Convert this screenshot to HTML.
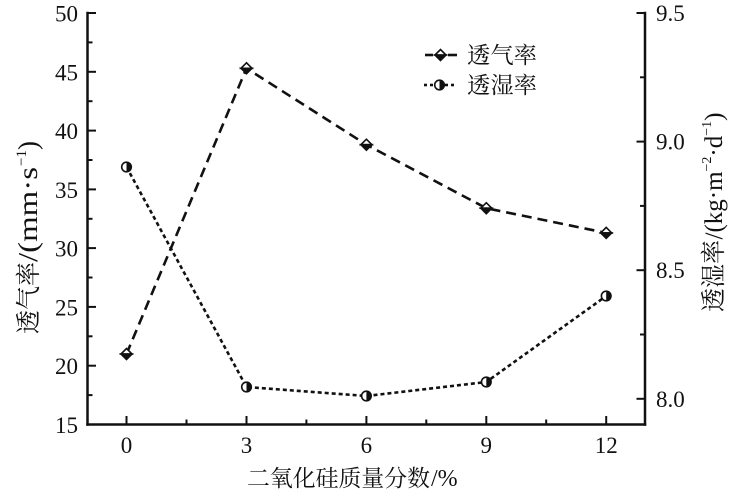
<!DOCTYPE html>
<html>
<head>
<meta charset="utf-8">
<style>
  html,body{margin:0;padding:0;background:#fff;}
  svg{display:block;}
  .num{font-family:"Liberation Serif",serif;font-size:23px;fill:#111;}
  .cjk{font-family:"Liberation Serif","Noto Serif CJK SC","Noto Sans CJK SC",serif;fill:#111;}
  .lat{font-family:"Liberation Serif",serif;fill:#111;}
</style>
</head>
<body>
<svg width="736" height="494" viewBox="0 0 736 494" xmlns="http://www.w3.org/2000/svg">
  <rect width="736" height="494" fill="#fff"/>

  <!-- Axes -->
  <g stroke="#111" stroke-width="2.5" fill="none" stroke-linecap="square">
    <line x1="87.5" y1="13" x2="87.5" y2="424.5"/>
    <line x1="645" y1="13" x2="645" y2="424.5"/>
    <line x1="87.5" y1="424.5" x2="645" y2="424.5"/>
  </g>

  <!-- Left ticks -->
  <g stroke="#111" stroke-width="2">
    <line x1="87.5" y1="13" x2="96" y2="13"/>
    <line x1="87.5" y1="71.8" x2="96" y2="71.8"/>
    <line x1="87.5" y1="130.6" x2="96" y2="130.6"/>
    <line x1="87.5" y1="189.4" x2="96" y2="189.4"/>
    <line x1="87.5" y1="248.1" x2="96" y2="248.1"/>
    <line x1="87.5" y1="306.9" x2="96" y2="306.9"/>
    <line x1="87.5" y1="365.7" x2="96" y2="365.7"/>
    <line x1="87.5" y1="42.4" x2="92.5" y2="42.4"/>
    <line x1="87.5" y1="101.2" x2="92.5" y2="101.2"/>
    <line x1="87.5" y1="160" x2="92.5" y2="160"/>
    <line x1="87.5" y1="218.8" x2="92.5" y2="218.8"/>
    <line x1="87.5" y1="277.5" x2="92.5" y2="277.5"/>
    <line x1="87.5" y1="336.3" x2="92.5" y2="336.3"/>
    <line x1="87.5" y1="395.1" x2="92.5" y2="395.1"/>
  </g>

  <!-- Right ticks -->
  <g stroke="#111" stroke-width="2">
    <line x1="645" y1="13" x2="636.5" y2="13"/>
    <line x1="645" y1="141.6" x2="636.5" y2="141.6"/>
    <line x1="645" y1="270.2" x2="636.5" y2="270.2"/>
    <line x1="645" y1="398.8" x2="636.5" y2="398.8"/>
    <line x1="645" y1="77.3" x2="640" y2="77.3"/>
    <line x1="645" y1="205.9" x2="640" y2="205.9"/>
    <line x1="645" y1="334.5" x2="640" y2="334.5"/>
  </g>

  <!-- Bottom ticks -->
  <g stroke="#111" stroke-width="2">
    <line x1="126.5" y1="424.5" x2="126.5" y2="416"/>
    <line x1="246.5" y1="424.5" x2="246.5" y2="416"/>
    <line x1="366.4" y1="424.5" x2="366.4" y2="416"/>
    <line x1="486.3" y1="424.5" x2="486.3" y2="416"/>
    <line x1="606.2" y1="424.5" x2="606.2" y2="416"/>
    <line x1="186.5" y1="424.5" x2="186.5" y2="419.5"/>
    <line x1="306.4" y1="424.5" x2="306.4" y2="419.5"/>
    <line x1="426.3" y1="424.5" x2="426.3" y2="419.5"/>
    <line x1="546.2" y1="424.5" x2="546.2" y2="419.5"/>
  </g>

  <!-- Left tick labels -->
  <g class="num" text-anchor="end">
    <text x="78" y="21.5">50</text>
    <text x="78" y="80.3">45</text>
    <text x="78" y="139.1">40</text>
    <text x="78" y="197.9">35</text>
    <text x="78" y="256.6">30</text>
    <text x="78" y="315.4">25</text>
    <text x="78" y="374.2">20</text>
    <text x="78" y="433">15</text>
  </g>

  <!-- Right tick labels -->
  <g class="num" text-anchor="start">
    <text x="656" y="21">9.5</text>
    <text x="656" y="149.6">9.0</text>
    <text x="656" y="278.2">8.5</text>
    <text x="656" y="406.8">8.0</text>
  </g>

  <!-- Bottom tick labels -->
  <g class="num" text-anchor="middle">
    <text x="126.5" y="453">0</text>
    <text x="246.5" y="453">3</text>
    <text x="366.4" y="453">6</text>
    <text x="486.3" y="453">9</text>
    <text x="606.2" y="453">12</text>
  </g>

  <!-- X axis title -->
  <text class="cjk" x="247" y="486" font-size="23" textLength="183" lengthAdjust="spacingAndGlyphs">二氧化硅质量分数</text>
  <text class="lat" x="431" y="486" font-size="24">/%</text>

  <!-- Left axis title -->
  <g transform="translate(37,236) rotate(-90)">
    <text class="cjk" x="-98" y="0" font-size="25" textLength="72" lengthAdjust="spacingAndGlyphs">透气率</text>
    <text class="lat" x="-26" y="0" font-size="27" textLength="95" lengthAdjust="spacingAndGlyphs">/(mm·s</text>
    <text class="lat" x="70" y="-11" font-size="15">−1</text>
    <text class="lat" x="86" y="0" font-size="27">)</text>
  </g>

  <!-- Right axis title -->
  <g transform="translate(722,212.5) rotate(-90)">
    <text class="cjk" x="-99.5" y="0" font-size="25" textLength="72" lengthAdjust="spacingAndGlyphs">透湿率</text>
    <text class="lat" x="-27" y="0" font-size="25" textLength="127" lengthAdjust="spacingAndGlyphs">/(kg·m<tspan font-size="14" dy="-11">−2</tspan><tspan dy="11">·d</tspan><tspan font-size="14" dy="-11">−1</tspan><tspan dy="11">)</tspan></text>
  </g>

  <!-- Series 1: 透气率 (dashed) -->
  <polyline points="126.5,354 246.5,68.3 366.4,144.7 486.3,208.2 606.2,232.9"
            fill="none" stroke="#111" stroke-width="2.6" stroke-dasharray="10,6"/>
  <!-- Series 2: 透湿率 (dotted) -->
  <polyline points="126.5,167 246.5,387 366.4,396 486.3,382 606.2,296"
            fill="none" stroke="#111" stroke-width="2.6" stroke-dasharray="4,3"/>

  <defs>
    <g id="dia">
      <path d="M-5.5,0 L0,-5.5 L5.5,0 Z" fill="#fff" stroke="#111" stroke-width="1.6"/>
      <path d="M-5.5,0 L0,5.5 L5.5,0 Z" fill="#111" stroke="#111" stroke-width="1.6"/>
    </g>
    <g id="cir">
      <circle r="4.8" fill="#fff" stroke="#111" stroke-width="1.6"/>
      <path d="M0,-4.8 A4.8,4.8 0 0 1 0,4.8 Z" fill="#111"/>
    </g>
  </defs>
  <use href="#dia" x="126.5" y="354"/>
  <use href="#dia" x="246.5" y="68.3"/>
  <use href="#dia" x="366.4" y="144.7"/>
  <use href="#dia" x="486.3" y="208.2"/>
  <use href="#dia" x="606.2" y="232.9"/>

  <use href="#cir" x="126.5" y="167"/>
  <use href="#cir" x="246.5" y="387"/>
  <use href="#cir" x="366.4" y="396"/>
  <use href="#cir" x="486.3" y="382"/>
  <use href="#cir" x="606.2" y="296"/>

  <!-- Legend -->
  <g stroke="#111" stroke-width="2.6">
    <line x1="425" y1="55" x2="433" y2="55"/>
    <line x1="448" y1="55" x2="457" y2="55"/>
    <line x1="424" y1="85" x2="427" y2="85"/>
    <line x1="430" y1="85" x2="433" y2="85"/>
    <line x1="445" y1="85" x2="448" y2="85"/>
    <line x1="451" y1="85" x2="454" y2="85"/>
  </g>
  <use href="#dia" x="440.5" y="55"/>
  <use href="#cir" x="439.5" y="85"/>
  <text class="cjk" x="467" y="63" font-size="23" textLength="70" lengthAdjust="spacingAndGlyphs">透气率</text>
  <text class="cjk" x="467" y="93" font-size="23" textLength="70" lengthAdjust="spacingAndGlyphs">透湿率</text>
</svg>
</body>
</html>
